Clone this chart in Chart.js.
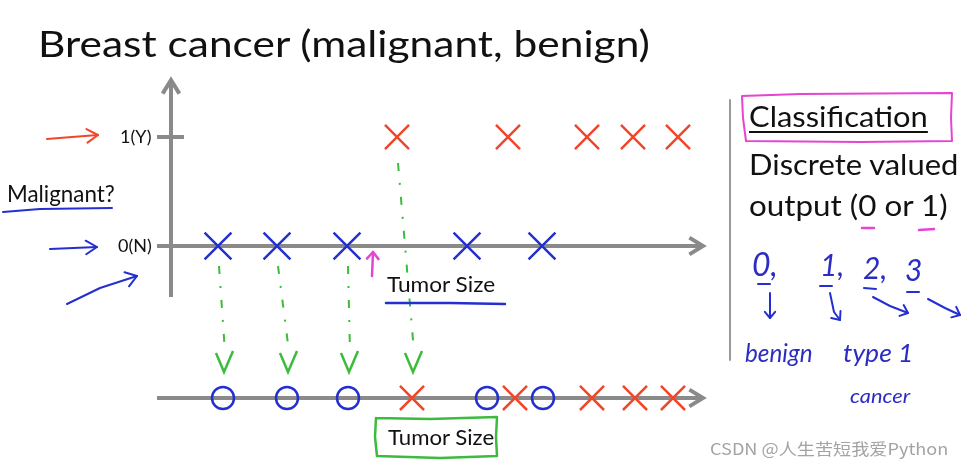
<!DOCTYPE html>
<html>
<head>
<meta charset="utf-8">
<title>Breast cancer (malignant, benign)</title>
<script src="https://cdn.jsdelivr.net/npm/chart.js@4.4.1/dist/chart.umd.min.js"></script>
<style>
  body { margin: 0; background: #fff; }
  #wrap { position: relative; width: 963px; height: 467px; overflow: hidden; background: #fff; }
  #c { position: absolute; left: 0; top: 0; }
  .t { position: absolute; white-space: nowrap; line-height: 1; font-family: Lato, "Open Sans", sans-serif; color: #111; transform-origin: 0 0; }
  .hand { color: #2c2cc4; font-style: italic; }
  .wm { font-family: "Noto Sans CJK SC", sans-serif; color: #a3a3a3; }
</style>
</head>
<body>
<div id="wrap">
  <canvas id="c" width="963" height="467"></canvas>

  <div class="t" data-x="38" data-b="57" data-s="36" data-w="612">Breast cancer (malignant, benign)</div>
  <div class="t" data-x="7" data-b="202" data-s="23" data-w="108">Malignant?</div>
  <div class="t" data-x="387" data-b="293" data-s="22" data-w="108">Tumor Size</div>
  <div class="t" data-x="388" data-b="446" data-s="22" data-w="106">Tumor Size</div>

  <div class="t" data-x="749" data-b="127" data-s="29" data-w="179" style="text-decoration: underline; text-decoration-thickness: 2px; text-underline-offset: 4px;">Classification</div>
  <div class="t" data-x="749" data-b="175" data-s="29" data-w="209">Discrete valued</div>
  <div class="t" data-x="749" data-b="216" data-s="29" data-w="199">output (0 or 1)</div>

  <div class="t hand" data-x="752" data-b="276" data-s="32">0,</div>
  <div class="t hand" data-x="820" data-b="276" data-s="30">1,</div>
  <div class="t hand" data-x="863" data-b="279" data-s="30">2,</div>
  <div class="t hand" data-x="905" data-b="281" data-s="30">3</div>
  <div class="t hand" data-x="745" data-b="362" data-s="25" data-w="68">benign</div>
  <div class="t hand" data-x="843" data-b="362" data-s="25" data-w="70">type 1</div>
  <div class="t hand" data-x="850" data-b="403" data-s="20" data-w="60">cancer</div>

  <div class="t wm" data-x="710" data-b="454" data-s="16" data-w="238">CSDN @人生苦短我爱Python</div>
</div>

<script>
// tumor sizes of the examples (top plot, label 0 = benign, label 1 = malignant)
const benignSize = [0.94, 2.12, 3.52, 5.92, 7.42];
const malignantSize = [4.52, 6.74, 8.32, 9.24, 10.14];
// same examples drawn again on the 1-D "Tumor Size" line below
const benignProj = [1.04, 2.32, 3.54, 6.32, 7.44];
const malignantProj = [4.82, 6.88, 8.42, 9.28, 10.04];
// y axis ticks
const yTickValues = [0, 1];
const yTickLabels = ["0(N)", "1(Y)"];

const BLUE = "#2330cf";
const RED = "#f0462a";
const GREEN = "#3dbb3d";
const PINK = "#e445d2";
const AXIS = "#8a8a8a";

function stroke(ctx, pts) {
  ctx.beginPath();
  ctx.moveTo(pts[0][0], pts[0][1]);
  for (let i = 1; i < pts.length; i++) ctx.lineTo(pts[i][0], pts[i][1]);
  ctx.stroke();
}

function head(ctx, from, to, len, ang) {
  const a = Math.atan2(to[1] - from[1], to[0] - from[0]);
  stroke(ctx, [
    [to[0] - len * Math.cos(a - ang), to[1] - len * Math.sin(a - ang)],
    to,
    [to[0] - len * Math.cos(a + ang), to[1] - len * Math.sin(a + ang)],
  ]);
}

function arrow(ctx, pts, len, ang) {
  stroke(ctx, pts);
  head(ctx, pts[pts.length - 2], pts[pts.length - 1], len || 12, ang || 0.6);
}

let ticksPlaced = false;

const sketch = {
  id: "sketch",
  beforeDatasetsDraw(chart) {
    const { ctx } = chart;
    const { x, y, yb } = chart.scales;
    const x0 = x.getPixelForValue(0);
    const xa = x.getPixelForValue(-0.28);
    const xb = x.getPixelForValue(10.64);

    ctx.save();
    ctx.strokeStyle = AXIS;
    ctx.lineWidth = 4;
    // top plot axes
    const y0 = y.getPixelForValue(0);
    arrow(ctx, [[xa, y0], [xb, y0]], 16, 0.55);
    arrow(ctx, [[x0, y.getPixelForValue(-0.468)], [x0, y.getPixelForValue(1.523)]], 16, 0.55);
    const y1 = y.getPixelForValue(1);
    stroke(ctx, [[xa, y1], [x.getPixelForValue(0.26), y1]]);
    // 1-D tumor size line
    const yl = yb.getPixelForValue(0);
    arrow(ctx, [[xa, yl], [xb, yl]], 16, 0.55);

    // green dash-dot projections
    const top0 = chart.getDatasetMeta(0).data;
    const top1 = chart.getDatasetMeta(1).data;
    const bot0 = chart.getDatasetMeta(2).data;
    const bot1 = chart.getDatasetMeta(3).data;
    const pairs = [[top0[0], bot0[0], 20], [top0[1], bot0[1], 20], [top0[2], bot0[2], 20], [top1[0], bot1[0], 26]];
    ctx.strokeStyle = GREEN;
    ctx.lineWidth = 2;
    pairs.forEach(([p, q, off]) => {
      const tipY = q.y - 26;
      ctx.setLineDash([8, 12, 2, 12]);
      stroke(ctx, [[p.x + 1, p.y + off], [q.x + 2, tipY - 20]]);
      ctx.setLineDash([]);
      ctx.lineWidth = 2.5;
      stroke(ctx, [[q.x - 7, tipY - 19], [q.x + 1, tipY], [q.x + 10, tipY - 21]]);
      ctx.lineWidth = 2;
    });
    ctx.restore();
  },
  afterDraw(chart) {
    const { ctx } = chart;
    ctx.save();
    ctx.lineCap = "round";
    ctx.lineJoin = "round";

    // left side pointers
    ctx.lineWidth = 2;
    ctx.strokeStyle = RED;
    arrow(ctx, [[47, 139], [72, 137], [98, 135]], 13, 0.55);
    ctx.strokeStyle = BLUE;
    arrow(ctx, [[50, 249], [97, 247]], 13, 0.55);
    arrow(ctx, [[67, 304], [100, 288], [137, 276]], 13, 0.6);
    stroke(ctx, [[3, 212], [40, 209], [112, 208]]);
    ctx.lineWidth = 2.5;
    stroke(ctx, [[386, 303], [450, 303], [505, 304]]);

    // pink marker under the threshold
    ctx.strokeStyle = PINK;
    ctx.lineWidth = 2.5;
    arrow(ctx, [[372, 276], [373, 252]], 9, 0.7);

    // right panel
    ctx.strokeStyle = "#9a9a9a";
    ctx.lineWidth = 2;
    stroke(ctx, [[730, 100], [730, 360]]);
    ctx.strokeStyle = PINK;
    ctx.lineWidth = 2;
    stroke(ctx, [[742, 96], [800, 94], [952, 93], [951, 118], [952, 141], [860, 142], [746, 141], [743, 118], [742, 96]]);
    ctx.lineWidth = 2.5;
    stroke(ctx, [[862, 228], [874, 228]]);
    stroke(ctx, [[919, 230], [934, 229]]);

    ctx.strokeStyle = BLUE;
    ctx.lineWidth = 2;
    stroke(ctx, [[758, 284], [770, 284]]);
    stroke(ctx, [[820, 286], [832, 286]]);
    stroke(ctx, [[864, 288], [876, 289]]);
    stroke(ctx, [[907, 292], [919, 292]]);
    arrow(ctx, [[770, 293], [770, 318]], 8, 0.7);
    arrow(ctx, [[830, 293], [834, 312], [840, 320]], 9, 0.7);
    arrow(ctx, [[873, 297], [890, 306], [908, 313]], 9, 0.7);
    arrow(ctx, [[928, 299], [945, 308], [960, 315]], 9, 0.7);

    // green box round the 1-D axis title
    ctx.strokeStyle = GREEN;
    ctx.lineWidth = 2.5;
    stroke(ctx, [[376, 418], [430, 419], [497, 417], [496, 437], [497, 456], [440, 458], [377, 456], [375, 437], [376, 418]]);
    ctx.restore();

    // y tick labels, placed from the scale
    if (!ticksPlaced) {
      ticksPlaced = true;
      const wrap = document.getElementById("wrap");
      const xr = chart.scales.x.getPixelForValue(0) - 19;
      yTickValues.forEach((v, i) => {
        const el = document.createElement("div");
        el.className = "t";
        el.textContent = yTickLabels[i];
        el.dataset.s = 18;
        el.dataset.b = chart.scales.y.getPixelForValue(v) + 6;
        el.dataset.r = xr;
        wrap.appendChild(el);
        placeLabel(el);
      });
    }
  },
};

function placeLabel(el) {
  const s = +el.dataset.s;
  el.style.fontSize = s + "px";
  el.style.top = (+el.dataset.b - 0.887 * s) + "px";
  let k = 1;
  if (el.dataset.w) {
    k = +el.dataset.w / el.offsetWidth;
    el.style.transform = "scaleX(" + k + ")";
  }
  if (el.dataset.r) el.style.left = (+el.dataset.r - el.offsetWidth * k) + "px";
  else el.style.left = el.dataset.x + "px";
}

document.querySelectorAll(".t").forEach(placeLabel);

const ctx = document.getElementById("c").getContext("2d");

new Chart(ctx, {
  type: "scatter",
  data: {
    datasets: [
      {
        label: "Benign (0)",
        data: benignSize.map((v) => ({ x: v, y: 0 })),
        yAxisID: "y",
        pointStyle: "crossRot",
        pointRadius: 19,
        pointBorderWidth: 2.5,
        borderColor: BLUE,
        backgroundColor: BLUE,
        clip: false,
      },
      {
        label: "Malignant (1)",
        data: malignantSize.map((v) => ({ x: v, y: 1 })),
        yAxisID: "y",
        pointStyle: "crossRot",
        pointRadius: 17,
        pointBorderWidth: 2.5,
        borderColor: RED,
        backgroundColor: RED,
        clip: false,
      },
      {
        label: "Benign",
        data: benignProj.map((v) => ({ x: v, y: 0 })),
        yAxisID: "yb",
        pointStyle: "circle",
        pointRadius: 11,
        pointBorderWidth: 2.5,
        borderColor: BLUE,
        backgroundColor: "rgba(0,0,0,0)",
        clip: false,
      },
      {
        label: "Malignant",
        data: malignantProj.map((v) => ({ x: v, y: 0 })),
        yAxisID: "yb",
        pointStyle: "crossRot",
        pointRadius: 17,
        pointBorderWidth: 2.5,
        borderColor: RED,
        backgroundColor: RED,
        clip: false,
      },
    ],
  },
  options: {
    responsive: false,
    animation: false,
    devicePixelRatio: 1,
    events: [],
    // chart area 171..721 x 82.5..442.2 (kept clear of the point overflow padding)
    layout: { padding: { left: 171, right: 242, top: 82.5, bottom: 24.8 } },
    scales: {
      x: { type: "linear", min: 0, max: 11, display: false },
      y: { type: "linear", min: -1.8, max: 1.5, display: false },
      yb: { type: "linear", position: "left", min: -0.4, max: 2.854, display: false },
    },
    plugins: {
      legend: { display: false },
      tooltip: { enabled: false },
    },
  },
  plugins: [sketch],
});
</script>
</body>
</html>
